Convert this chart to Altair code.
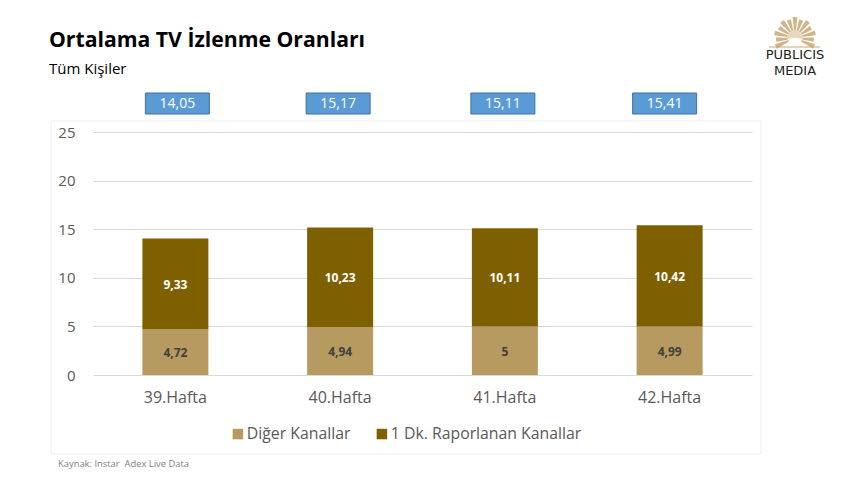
import math
import altair as alt
import pandas as pd

weeks = ["39.Hafta", "40.Hafta", "41.Hafta", "42.Hafta"]
other = [4.72, 4.94, 5, 4.99]
reported = [9.33, 10.23, 10.11, 10.42]
totals = [14.05, 15.17, 15.11, 15.41]
series = ["Diğer Kanallar", "1 Dk. Raporlanan Kanallar"]
colors = ["#B69A5F", "#7F6000"]

FONT = "Open Sans"
GREY = "#595959"
PL, PT = 85, 124   # plot origin inside the page box
TAU = 2 * math.pi
BOX_SHIFT = [2, -2, -2, -5]  # the total boxes sit slightly off their bars


def comma(v):
    return f"{v:g}".replace(".", ",")


rows = []
for w, a, b in zip(weeks, other, reported):
    rows.append(dict(week=w, series=series[0], value=a, rank=0, mid=a / 2, label=comma(a)))
    rows.append(dict(week=w, series=series[1], value=b, rank=1, mid=a + b / 2, label=comma(b)))
df = pd.DataFrame(rows)
tot = pd.DataFrame(dict(week=weeks, label=[comma(t) for t in totals]))
one = pd.DataFrame({"k": [0]})

xscale = alt.Scale(domain=weeks, paddingInner=0.6, paddingOuter=0.3)
yscale = alt.Scale(domain=[0, 25], nice=False)
x = alt.X("week:N", sort=weeks, title=None, scale=xscale,
          axis=alt.Axis(labelAngle=0, labelFont=FONT, labelFontSize=16, labelColor=GREY,
                        labelPadding=14, domain=False, ticks=False, grid=False))
xn = alt.X("week:N", sort=weeks, scale=xscale)
yn = alt.Y("mid:Q", scale=yscale)


def page_text(text, px, py, size, color="#000000", weight="normal", align="left", font=FONT):
    return alt.Chart(one).mark_text(text=text, font=font, fontSize=size, color=color, fontWeight=weight,
                                    align=align, baseline="middle").encode(
        x=alt.value(px - 8 - PL), y=alt.value(py - 8 - PT))


frame = alt.Chart(one).mark_rect(fillOpacity=0, stroke="#EFEFEF", strokeWidth=1).encode(
    x=alt.value(51 - 8 - PL), x2=alt.value(761 - 8 - PL),
    y=alt.value(121 - 8 - PT), y2=alt.value(454 - 8 - PT))

bars = alt.Chart(df).mark_bar(size=66).encode(
    x=x,
    y=alt.Y("value:Q", stack="zero", title=None, scale=yscale,
            axis=alt.Axis(values=[0, 5, 10, 15, 20, 25], labelFont=FONT, labelFontSize=15, labelColor=GREY,
                          labelPadding=18, domain=False, ticks=False, grid=True, gridColor="#D9D9D9",
                          gridWidth=1)),
    color=alt.Color("series:N", sort=series, scale=alt.Scale(domain=series, range=colors),
                    legend=alt.Legend(title=None, orient="none", direction="horizontal",
                                      legendX=232 - 8 - PL - 2, legendY=437 - 8 - PT - 11,
                                      labelFont=FONT, labelFontSize=15.8, labelColor=GREY, labelLimit=300,
                                      symbolType="square", symbolSize=110, symbolStrokeWidth=0,
                                      columnPadding=23, labelOffset=1)),
    order=alt.Order("rank:Q"),
)

low = alt.Chart(df[df["rank"] == 0]).mark_text(font=FONT, fontSize=12, fontWeight="bold", color="#404040", dy=1).encode(
    x=xn, y=yn, text="label:N")
high = alt.Chart(df[df["rank"] == 1]).mark_text(font=FONT, fontSize=12, fontWeight="bold", color="#FFFFFF", dy=1).encode(
    x=xn, y=yn, text="label:N")

box_layers = []
for i, shift in enumerate(BOX_SHIFT):
    row = tot.iloc[[i]]
    box_layers.append(alt.Chart(row).mark_bar(size=64, color="#5B9BD5", stroke="#41719C", strokeWidth=1,
                                              xOffset=shift).encode(
        x=xn, y=alt.value(93 - 8 - PT), y2=alt.value(114 - 8 - PT)))
    box_layers.append(alt.Chart(row).mark_text(font=FONT, fontSize=14, color="#FFFFFF", dx=shift).encode(
        x=xn, y=alt.value(104 - 8 - PT), text="label:N"))

# Publisher emblem, built from wedges
emblem = []
for i in range(-6, 7):
    mid = math.radians(i * 19)
    half = math.radians(6.5)
    emblem.append(alt.Chart(one).mark_arc(theta=TAU + mid - half, theta2=TAU + mid + half,
                                          radius=19 if i % 2 else 21, radius2=7, color="#D0B48A").encode(
        x=alt.value(795 - 8 - PL), y=alt.value(38 - 8 - PT)))
emblem.append(alt.Chart(one).mark_arc(theta=TAU - 1.7, theta2=TAU + 1.7, radius=8, color="#E8D9BE").encode(
    x=alt.value(795 - 8 - PL), y=alt.value(38 - 8 - PT)))
base = alt.Chart(one).mark_rule(color="#C9A876", strokeWidth=1).encode(
    x=alt.value(769 - 8 - PL), x2=alt.value(820 - 8 - PL), y=alt.value(47 - 8 - PT))

chart = alt.layer(
    frame, bars, low, high, *box_layers,
    page_text("Ortalama TV İzlenme Oranları", 49, 41, 21.2, weight="bold"),
    page_text("Tüm Kişiler", 49, 69, 15),
    page_text("Kaynak: Instar\u00a0 Adex Live Data", 58, 464, 9.4, color="#7F7F7F"),
    *emblem, base,
    page_text("PUBLICIS", 795, 55, 13, color="#222222", align="center", font="DejaVu Sans"),
    page_text("MEDIA", 795, 71, 13, color="#222222", align="center", font="DejaVu Sans"),
).properties(
    width=659, height=243, autosize="none",
    padding={"left": PL, "top": PT, "right": 100, "bottom": 94},
).configure_view(stroke=None)

chart.save("out.html", embed_options={"renderer": "svg", "actions": False})
